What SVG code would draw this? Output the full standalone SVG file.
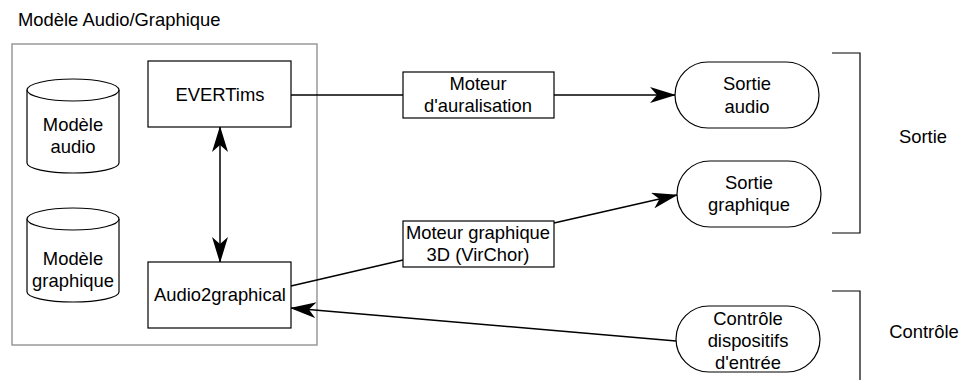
<svg xmlns="http://www.w3.org/2000/svg" width="960" height="380" viewBox="0 0 960 380">
<style>
text{font-family:"Liberation Sans",Arial,sans-serif;font-size:18.4px;fill:#000;text-anchor:middle}
.box{fill:#fff;stroke:#000;stroke-width:1.2}
.edge{fill:none;stroke:#000;stroke-width:1.5}
.br{fill:none;stroke:#000;stroke-width:1.2}
</style>
<defs>
<marker id="arr" markerUnits="userSpaceOnUse" markerWidth="26" markerHeight="16" viewBox="0 0 26 16" refX="25" refY="8" orient="auto-start-reverse">
<path d="M0,0 L26,8 L0,16 L7,8 Z" fill="#000"/>
</marker>
</defs>
<rect width="960" height="380" fill="#fff"/>
<text x="18" y="26" style="text-anchor:start;font-size:18.4px">Modèle Audio/Graphique</text>
<g id="group-model">
<rect x="12" y="44" width="305" height="301" fill="none" stroke="#999" stroke-width="1.5"/>
</g>
<g id="connectors">
<path class="edge" d="M291,95 H403"/>
<path class="edge" d="M554,95 H675" marker-end="url(#arr)"/>
<path class="edge" d="M291,286 L403,260"/>
<path class="edge" d="M554,223 L677,195" marker-end="url(#arr)"/>
<path class="edge" d="M676,341 L291,308" marker-end="url(#arr)"/>
<path class="edge" d="M220,127 V262" marker-start="url(#arr)" marker-end="url(#arr)"/>
</g>
<g id="cyl-audio">
<path class="box" d="M27,90 A46,11 0 0 1 119,90 V163 A46,10 0 0 1 27,163 Z"/>
<path class="box" fill="none" d="M27,90 A46,11 0 0 0 119,90"/>
<text x="73" y="131">Modèle</text>
<text x="73" y="153">audio</text>
</g>
<g id="cyl-graphique">
<path class="box" d="M27,219 A46,11 0 0 1 119,219 V292 A46,10 0 0 1 27,292 Z"/>
<path class="box" fill="none" d="M27,219 A46,11 0 0 0 119,219"/>
<text x="73" y="265">Modèle</text>
<text x="73" y="287">graphique</text>
</g>
<g id="evertims">
<rect class="box" x="148" y="61" width="143" height="66"/>
<text x="220" y="101">EVERTims</text>
</g>
<g id="audio2graphical">
<rect class="box" x="148" y="262" width="143" height="66"/>
<text x="220" y="301">Audio2graphical</text>
</g>
<g id="moteur-auralisation">
<rect class="box" x="403" y="72" width="151" height="46"/>
<text x="478" y="90">Moteur</text>
<text x="478" y="112">d'auralisation</text>
</g>
<g id="moteur-graphique">
<rect class="box" x="403" y="221" width="151" height="46"/>
<text x="478" y="239">Moteur graphique</text>
<text x="478" y="261">3D (VirChor)</text>
</g>
<g id="sortie-audio">
<rect class="box" x="675" y="62" width="144" height="66" rx="33" ry="33"/>
<text x="747" y="90">Sortie</text>
<text x="747" y="113">audio</text>
</g>
<g id="sortie-graphique">
<rect class="box" x="677" y="161" width="144" height="66" rx="33" ry="33"/>
<text x="749" y="189">Sortie</text>
<text x="749" y="211">graphique</text>
</g>
<g id="controle-dispositifs">
<rect class="box" x="676" y="306" width="144" height="66" rx="33" ry="33"/>
<text x="748" y="325">Contrôle</text>
<text x="748" y="347">dispositifs</text>
<text x="748" y="369">d'entrée</text>
</g>
<g id="bracket-sortie">
<path class="br" d="M832,53 H860 V233 H832"/>
<text x="923" y="143">Sortie</text>
</g>
<g id="bracket-controle">
<path class="br" d="M832,291 H860 V380"/>
<text x="924" y="338">Contrôle</text>
</g>
</svg>
